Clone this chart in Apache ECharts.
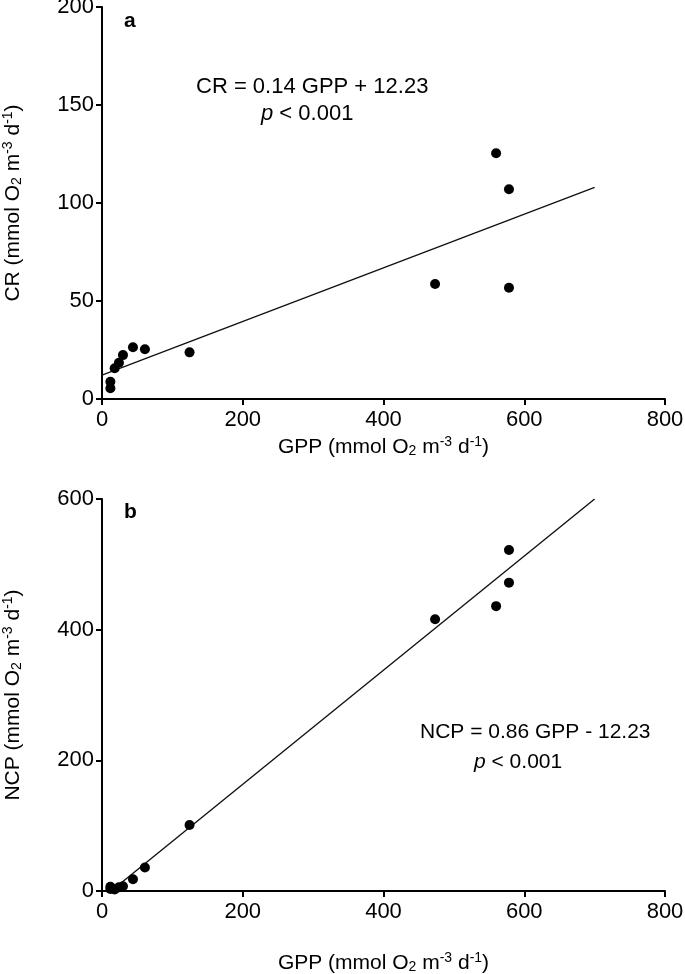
<!DOCTYPE html>
<html><head><meta charset="utf-8">
<script src="https://cdn.jsdelivr.net/npm/echarts@6/dist/echarts.min.js"></script>
<style>html,body{margin:0;padding:0;background:#fff}#c{width:685px;height:974px}</style>
</head><body><div id="c"></div>
<script>
// ---- data ----
const gpp = [11.9, 11.9, 18, 24.1, 29.8, 44, 61, 124.4, 473.3, 560, 578.3, 578.3];
const cr  = [8.8, 5.5, 15.7, 18.5, 22.4, 26.4, 25.4, 23.8, 58.7, 125.4, 107, 56.8];
const ncp = [3.1, 6.4, 2.3, 5.6, 7.4, 18, 36, 101, 416, 436, 472, 522];
const crFitX = [0, 700];
const crFitY = [12.2, 108];
const ncpFitX = [13, 700];
const ncpFitY = [0, 600];
const xTicks = [0, 200, 400, 600, 800];
const crTicks = [0, 50, 100, 150, 200];
const ncpTicks = [0, 200, 400, 600];
const eqA = ['CR = 0.14 GPP + 12.23', 'p < 0.001'];
const eqB = ['NCP = 0.86 GPP - 12.23', 'p < 0.001'];

const FONT = 'Liberation Sans, Arial, sans-serif';
const pairs = (xs, ys) => xs.map((x, i) => [x, ys[i]]);

const unitRich = {
  sub: {fontSize: 14, fontFamily: FONT, color: '#000', padding: [8, 0, 0, 0]},
  sup: {fontSize: 14, fontFamily: FONT, color: '#000', padding: [0, 0, 10, 0]}
};
const unit = 'mmol O{sub|2} m{sup|-3} d{sup|-1})';

function xAx(gi, gap) {
  return {
    type: 'value', gridIndex: gi, min: xTicks[0], max: xTicks[xTicks.length - 1], interval: 200,
    name: 'GPP (' + unit, nameLocation: 'middle', nameGap: gap,
    nameTextStyle: {fontSize: 21, fontFamily: FONT, color: '#000', rich: unitRich},
    axisLine: {show: true, onZero: false, lineStyle: {color: '#000', width: 2}},
    axisTick: {show: true, inside: false, length: 6, lineStyle: {color: '#000', width: 2}},
    axisLabel: {fontSize: 22, fontFamily: FONT, color: '#000', margin: 10},
    splitLine: {show: false}
  };
}
function yAx(gi, ticks, interval, nm) {
  return {
    type: 'value', gridIndex: gi, min: ticks[0], max: ticks[ticks.length - 1], interval: interval,
    name: nm + ' (' + unit, nameLocation: 'middle', nameGap: 77, nameRotate: 90,
    nameTextStyle: {fontSize: 21, fontFamily: FONT, color: '#000', rich: unitRich},
    axisLine: {show: true, onZero: false, lineStyle: {color: '#000', width: 2}},
    axisTick: {show: true, inside: false, length: 6, lineStyle: {color: '#000', width: 2}},
    axisLabel: {fontSize: 22, fontFamily: FONT, color: '#000', margin: 8},
    splitLine: {show: false}
  };
}

const chart = echarts.init(document.getElementById('c'), null, {renderer: 'canvas'});
chart.setOption({
  backgroundColor: '#fff',
  animation: false,
  grid: [
    {left: 102, right: 20, top: 7, height: 392, outerBoundsMode: 'none', containLabel: false},
    {left: 102, right: 20, top: 499, height: 392, outerBoundsMode: 'none', containLabel: false}
  ],
  xAxis: [xAx(0, 36), xAx(1, 60)],
  yAxis: [yAx(0, crTicks, 50, 'CR'), yAx(1, ncpTicks, 200, 'NCP')],
  series: [
    {type: 'line', xAxisIndex: 0, yAxisIndex: 0, data: pairs(crFitX, crFitY), symbol: 'none',
     lineStyle: {color: '#111', width: 1.4}, z: 2},
    {type: 'scatter', xAxisIndex: 0, yAxisIndex: 0, data: pairs(gpp, cr), symbol: 'circle', symbolSize: 10,
     itemStyle: {color: '#000', opacity: 1}, z: 3},
    {type: 'line', xAxisIndex: 1, yAxisIndex: 1, data: pairs(ncpFitX, ncpFitY), symbol: 'none',
     lineStyle: {color: '#111', width: 1.4}, z: 2},
    {type: 'scatter', xAxisIndex: 1, yAxisIndex: 1, data: pairs(gpp, ncp), symbol: 'circle', symbolSize: 10,
     itemStyle: {color: '#000', opacity: 1}, z: 3}
  ],
  graphic: [
    {type: 'text', left: 124, top: 11, style: {text: 'a', font: 'bold 21px ' + FONT, fill: '#000'}},
    {type: 'text', left: 124, top: 502, style: {text: 'b', font: 'bold 21px ' + FONT, fill: '#000'}},
    {type: 'text', left: 196, top: 76, style: {text: eqA[0], font: '22px ' + FONT, fill: '#000'}},
    {type: 'text', left: 261, top: 103, style: {text: '{i|p}' + eqA[1].slice(1), font: '22px ' + FONT, fill: '#000',
      rich: {i: {fontStyle: 'italic', fontSize: 22, fontFamily: FONT}}}},
    {type: 'text', left: 420, top: 722, style: {text: eqB[0], font: '21px ' + FONT, fill: '#000'}},
    {type: 'text', left: 474, top: 752, style: {text: '{i|p}' + eqB[1].slice(1), font: '21px ' + FONT, fill: '#000',
      rich: {i: {fontStyle: 'italic', fontSize: 21, fontFamily: FONT}}}}
  ]
});
</script>
</body></html>
